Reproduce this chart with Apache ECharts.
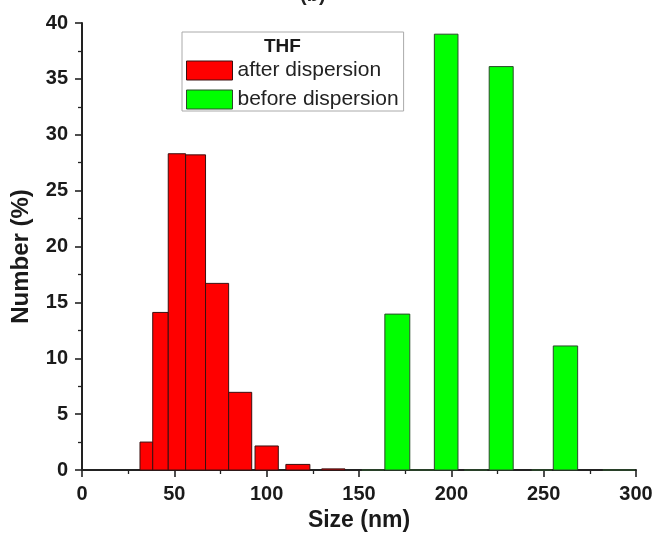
<!DOCTYPE html>
<html>
<head>
<meta charset="utf-8">
<script src="https://cdn.jsdelivr.net/npm/echarts@6/dist/echarts.min.js"></script>
<style>
html,body{margin:0;padding:0;background:#fff;}
#chart{width:658px;height:545px;}
</style>
</head>
<body>
<div id="chart"></div>
<script>
// Red series: after dispersion (bin start, bin end, Number %)
const afterStart = [31.4, 38.3, 46.7, 56.1, 66.9, 79.4, 93.7, 110.4, 129.8];
const afterEnd   = [38.3, 46.7, 56.1, 66.9, 79.4, 91.9, 106.3, 123.4, 142.4];
const afterValues = [2.5, 14.1, 28.3, 28.2, 16.7, 6.95, 2.15, 0.5, 0.1];

// Green series: before dispersion
const beforeStart = [151.5, 164.0, 177.5, 190.8, 207.0, 220.5, 243.5, 255.2, 282.0];
const beforeEnd   = [163.5, 177.5, 190.8, 203.6, 219.5, 233.5, 254.5, 268.4, 299.5];
const beforeValues = [0, 13.95, 0, 39.0, 0, 36.1, 0, 11.1, 0];

const xTicks = [0, 50, 100, 150, 200, 250, 300];
const yTicks = [0, 5, 10, 15, 20, 25, 30, 35, 40];

const seriesNames = ['after dispersion', 'before dispersion'];
const legendTitle = 'THF';
const panelLabel = '(b)';
const xName = 'Size (nm)';
const yName = 'Number (%)';

const FONT = '"Liberation Sans", Arial, sans-serif';

function toData(s, e, v) { return s.map((x, i) => [x, e[i], v[i]]); }

function renderBar(params, api) {
  const p0 = api.coord([api.value(0), api.value(2)]);
  const p1 = api.coord([api.value(1), 0]);
  return {
    type: 'rect',
    shape: { x: p0[0], y: p0[1], width: p1[0] - p0[0], height: p1[1] - p0[1] },
    style: api.style()
  };
}

const axisCommon = {
  type: 'value',
  nameLocation: 'middle',
  axisLine: { show: true, onZero: false, lineStyle: { color: '#222', width: 2 } },
  axisTick: { show: true, inside: false, length: 7, lineStyle: { color: '#222', width: 1.6 } },
  minorTick: { show: true, splitNumber: 2, length: 4, lineStyle: { color: '#222', width: 1.3 } },
  splitLine: { show: false },
  axisLabel: { fontFamily: FONT, fontWeight: 'bold', fontSize: 20, color: '#1a1a1a' }
};

const chart = echarts.init(document.getElementById('chart'), null, { renderer: 'canvas' });
chart.setOption({
  animation: false,
  backgroundColor: '#fff',
  textStyle: { fontFamily: FONT },
  grid: { left: 82, right: 22, top: 23, bottom: 75 },
  graphic: [
    { type: 'text', left: 300, top: -15, z: 100, style: { text: panelLabel, font: 'bold 20px ' + FONT, fill: '#222' } },
    { type: 'text', left: 264, top: 37, z: 100, style: { text: legendTitle, font: 'bold 19px ' + FONT, fill: '#1a1a1a' } }
  ],
  legend: {
    left: 182, top: 32,
    orient: 'vertical',
    padding: [28, 5, 1, 4],
    itemGap: 8,
    itemWidth: 46, itemHeight: 19,
    backgroundColor: '#fff',
    borderColor: '#aaa', borderWidth: 1,
    textStyle: { fontFamily: FONT, fontSize: 21, color: '#222', lineHeight: 19 },
    data: [
      { name: seriesNames[0], icon: 'rect', itemStyle: { color: '#ff0000', borderColor: '#3a1010', borderWidth: 1 } },
      { name: seriesNames[1], icon: 'rect', itemStyle: { color: '#00ff00', borderColor: '#2a4a2a', borderWidth: 1 } }
    ]
  },
  xAxis: Object.assign({}, axisCommon, {
    min: xTicks[0], max: xTicks[xTicks.length - 1], interval: 50,
    name: xName, nameGap: 34,
    nameTextStyle: { fontFamily: FONT, fontWeight: 'bold', fontSize: 23, color: '#1a1a1a' },
    axisLabel: Object.assign({}, axisCommon.axisLabel, { margin: 14 })
  }),
  yAxis: Object.assign({}, axisCommon, {
    min: yTicks[0], max: yTicks[yTicks.length - 1], interval: 5,
    name: yName, nameGap: 49, nameRotate: 90,
    nameTextStyle: { fontFamily: FONT, fontWeight: 'bold', fontSize: 24, color: '#1a1a1a', padding: [0, 20, 0, 0] },
    axisLabel: Object.assign({}, axisCommon.axisLabel, { margin: 14 })
  }),
  series: [
    {
      name: seriesNames[0], type: 'custom', renderItem: renderBar,
      encode: { x: [0, 1], y: 2 },
      itemStyle: { color: '#ff0000', borderColor: '#3a1010', borderWidth: 1 },
      data: toData(afterStart, afterEnd, afterValues)
    },
    {
      name: seriesNames[1], type: 'custom', renderItem: renderBar,
      encode: { x: [0, 1], y: 2 },
      itemStyle: { color: '#00ff00', borderColor: '#2a4a2a', borderWidth: 1 },
      data: toData(beforeStart, beforeEnd, beforeValues)
    }
  ]
});
</script>
</body>
</html>
